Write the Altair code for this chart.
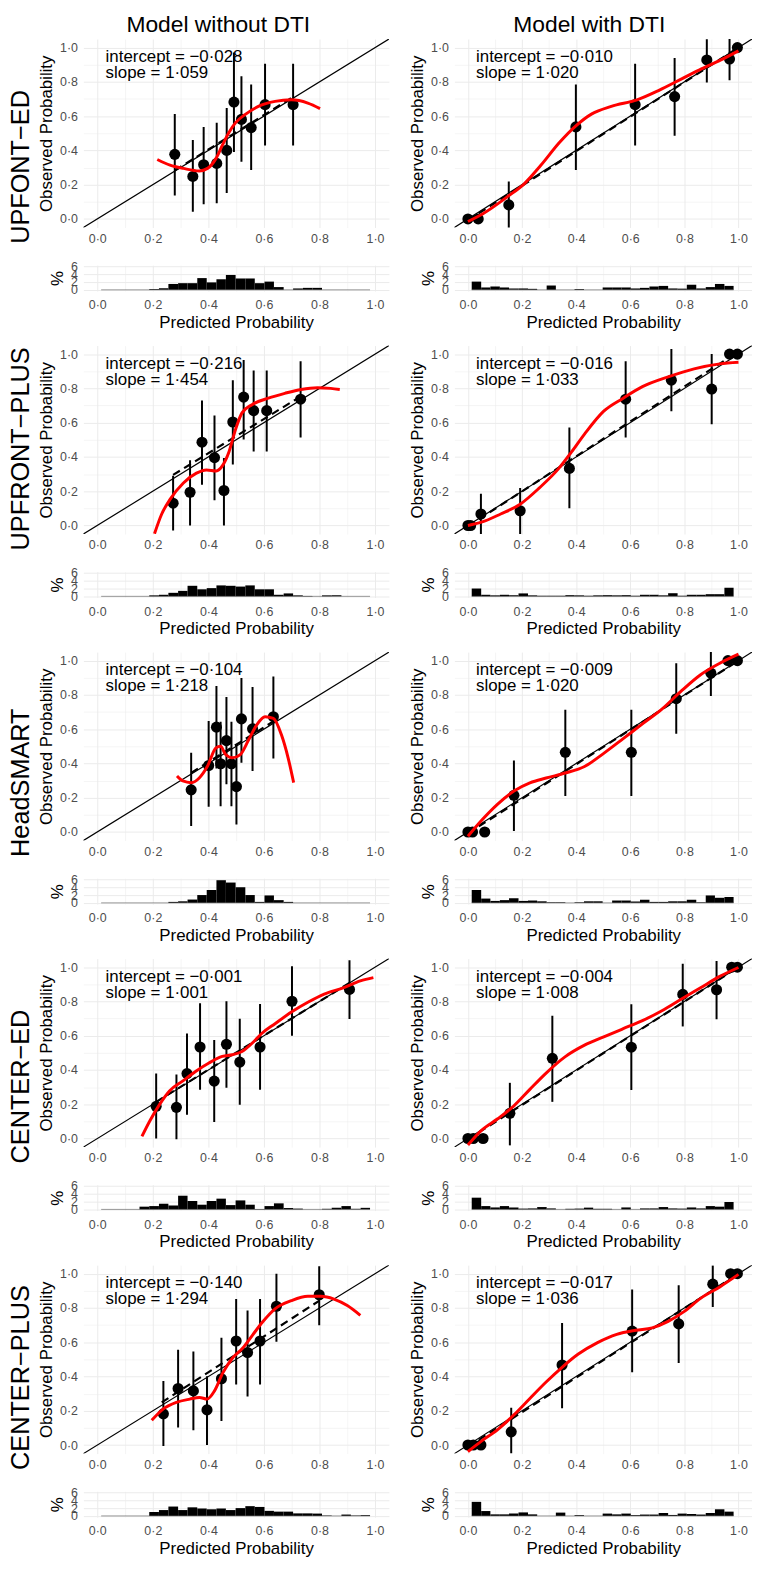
import altair as alt
import pandas as pd

FONT = "Liberation Sans"

# ---------------- text ----------------
ROW_NAMES = ["UPFONT\u2212ED", "UPFRONT\u2212PLUS", "HeadSMART", "CENTER\u2212ED", "CENTER\u2212PLUS"]
COL_NAMES = ["Model without DTI", "Model with DTI"]

# ---------------- axis ticks ----------------
TENTHS = [0.0, 0.1, 0.2, 0.3, 0.4, 0.5, 0.6, 0.7, 0.8, 0.9, 1.0]
HIST_TICKS = [0, 2, 4, 6]
DIAG = [-0.1, 1.1]

# ---------------- histogram bins ----------------
BIN_LO = [0.014, 0.049, 0.083, 0.118, 0.152, 0.187, 0.222, 0.256, 0.291, 0.325,
          0.360, 0.394, 0.429, 0.463, 0.498, 0.533, 0.567, 0.602, 0.636, 0.671,
          0.705, 0.740, 0.775, 0.809, 0.844, 0.879, 0.913, 0.948]
BIN_HI = [0.049, 0.083, 0.118, 0.152, 0.187, 0.222, 0.256, 0.291, 0.325, 0.360,
          0.394, 0.429, 0.463, 0.498, 0.533, 0.567, 0.602, 0.636, 0.671, 0.705,
          0.740, 0.775, 0.809, 0.844, 0.879, 0.913, 0.948, 0.982]

# ================= UPFONT-ED, without DTI =================
ue_wo_px = [0.279, 0.344, 0.383, 0.430, 0.466, 0.492, 0.519, 0.554, 0.604, 0.705]
ue_wo_py = [0.377, 0.248, 0.316, 0.324, 0.400, 0.682, 0.581, 0.533, 0.667, 0.667]
ue_wo_lo = [0.137, 0.042, 0.086, 0.091, 0.152, 0.390, 0.333, 0.286, 0.429, 0.429]
ue_wo_hi = [0.613, 0.461, 0.537, 0.562, 0.648, 0.971, 0.832, 0.785, 0.905, 0.905]
ue_wo_cx = [0.216, 0.262, 0.310, 0.367, 0.397, 0.427, 0.450, 0.474, 0.498, 0.533, 0.580, 0.640, 0.699, 0.758, 0.802]
ue_wo_cy = [0.347, 0.314, 0.295, 0.280, 0.295, 0.352, 0.429, 0.505, 0.562, 0.610, 0.657, 0.686, 0.695, 0.676, 0.644]
ue_wo_dx = [0.279, 0.705]
ue_wo_dy = [0.283, 0.712]
ue_wo_hist = [0, 0, 0, 0, 0, 0.2, 0.4, 1.5, 1.7, 1.7, 3.0, 1.9, 2.7, 3.8, 2.9, 2.9, 1.7, 2.1, 0.7, 0,
              0.35, 0.5, 0.5, 0, 0, 0, 0, 0]
ue_wo_txt = ["intercept = \u22120\u00b7028", "slope = 1\u00b7059"]

# ================= UPFONT-ED, with DTI =================
ue_w_px = [0.0, 0.038, 0.151, 0.399, 0.618, 0.764, 0.883, 0.967, 0.996]
ue_w_py = [0.0, 0.0, 0.082, 0.537, 0.667, 0.714, 0.928, 0.933, 1.0]
ue_w_lo = [0.0, 0.0, -0.057, 0.286, 0.429, 0.486, 0.796, 0.810, 1.0]
ue_w_hi = [0.0, 0.0, 0.219, 0.785, 0.905, 0.939, 1.048, 1.050, 1.0]
ue_w_cx = [0.0, 0.054, 0.149, 0.208, 0.268, 0.339, 0.399, 0.458, 0.530, 0.625, 0.708, 0.792, 0.863, 0.935, 1.0]
ue_w_cy = [-0.015, 0.029, 0.133, 0.205, 0.310, 0.447, 0.543, 0.613, 0.657, 0.695, 0.752, 0.819, 0.876, 0.928, 0.981]
ue_w_dx = [0.0, 1.0]
ue_w_dy = [-0.008, 1.0]
ue_w_hist = [2.1, 0.6, 0.85, 0.6, 0.35, 0.35, 0.25, 0, 1.1, 0, 0, 0.2, 0, 0, 0.6, 0.6, 0.6, 0.35, 0.5, 0.85,
             1.0, 0.35, 0.3, 1.3, 0.35, 0.7, 1.5, 1.0]
ue_w_txt = ["intercept = \u22120\u00b7010", "slope = 1\u00b7020"]

# ================= UPFRONT-PLUS, without DTI =================
up_wo_px = [0.273, 0.334, 0.377, 0.422, 0.456, 0.488, 0.527, 0.563, 0.610, 0.732]
up_wo_py = [0.130, 0.194, 0.486, 0.396, 0.204, 0.604, 0.749, 0.670, 0.670, 0.737]
up_wo_lo = [-0.030, 0.0, 0.238, 0.147, 0.0, 0.356, 0.501, 0.432, 0.432, 0.514]
up_wo_hi = [0.290, 0.381, 0.730, 0.642, 0.394, 0.848, 0.966, 0.905, 0.905, 0.958]
up_wo_cx = [0.206, 0.232, 0.262, 0.310, 0.357, 0.393, 0.428, 0.452, 0.474, 0.498, 0.521, 0.557, 0.616,
            0.675, 0.734, 0.793, 0.840, 0.873]
up_wo_cy = [-0.048, 0.067, 0.152, 0.248, 0.305, 0.324, 0.318, 0.352, 0.429, 0.562, 0.657, 0.705, 0.743,
            0.771, 0.794, 0.804, 0.800, 0.794]
up_wo_dx = [0.273, 0.722]
up_wo_dy = [0.295, 0.743]
up_wo_hist = [0, 0, 0, 0, 0, 0.25, 0.4, 0.9, 1.4, 2.7, 1.8, 2.1, 2.8, 2.7, 2.5, 2.8, 1.8, 1.8, 0.4, 0.75,
              0.25, 0.1, 0, 0.25, 0.25, 0, 0, 0]
up_wo_txt = ["intercept = \u22120\u00b7216", "slope = 1\u00b7454"]

# ================= UPFRONT-PLUS, with DTI =================
up_w_px = [0.0, 0.010, 0.048, 0.193, 0.375, 0.583, 0.752, 0.901, 0.967, 0.996]
up_w_py = [0.0, 0.0, 0.067, 0.086, 0.333, 0.737, 0.848, 0.796, 1.0, 1.0]
up_w_lo = [0.0, 0.0, -0.050, -0.050, 0.101, 0.514, 0.667, 0.590, 1.0, 1.0]
up_w_hi = [0.0, 0.0, 0.185, 0.219, 0.571, 0.958, 1.030, 1.000, 1.0, 1.0]
up_w_cx = [0.0, 0.050, 0.121, 0.193, 0.264, 0.336, 0.383, 0.431, 0.502, 0.574, 0.645, 0.740, 0.836, 0.931, 1.0]
up_w_cy = [0.0, 0.019, 0.067, 0.124, 0.219, 0.333, 0.429, 0.533, 0.667, 0.743, 0.810, 0.867, 0.914, 0.943, 0.952]
up_w_dx = [0.0, 1.0]
up_w_dy = [-0.005, 1.015]
up_w_hist = [2.0, 0.4, 0.25, 0.4, 0.25, 0.75, 0.25, 0.15, 0.15, 0.15, 0.3, 0.25, 0.15, 0.25, 0.3, 0.25, 0.3,
             0.15, 0.4, 0.4, 0.25, 0.8, 0.15, 0.4, 0.4, 0.55, 0.55, 2.2]
up_w_txt = ["intercept = \u22120\u00b7016", "slope = 1\u00b7033"]

# ================= HeadSMART, without DTI =================
hs_wo_px = [0.338, 0.401, 0.429, 0.444, 0.465, 0.483, 0.501, 0.519, 0.559, 0.634]
hs_wo_py = [0.246, 0.388, 0.612, 0.398, 0.533, 0.398, 0.265, 0.660, 0.602, 0.673]
hs_wo_lo = [0.035, 0.148, 0.371, 0.150, 0.279, 0.150, 0.044, 0.404, 0.356, 0.429]
hs_wo_hi = [0.462, 0.648, 0.852, 0.644, 0.788, 0.644, 0.510, 0.898, 0.846, 0.908]
hs_wo_cx = [0.287, 0.308, 0.338, 0.368, 0.397, 0.427, 0.444, 0.462, 0.486, 0.515, 0.545, 0.574, 0.604,
            0.634, 0.663, 0.687, 0.707]
hs_wo_cy = [0.327, 0.298, 0.288, 0.317, 0.385, 0.490, 0.500, 0.452, 0.433, 0.452, 0.538, 0.625, 0.673,
            0.663, 0.567, 0.433, 0.288]
hs_wo_dx = [0.338, 0.634]
hs_wo_dy = [0.345, 0.645]
hs_wo_hist = [0, 0, 0, 0, 0, 0, 0, 0.25, 0.4, 0.85, 2.0, 3.3, 5.8, 5.2, 4.0, 2.0, 0.25, 1.9, 0.7, 0.25,
              0, 0, 0, 0, 0, 0, 0, 0]
hs_wo_txt = ["intercept = \u22120\u00b7104", "slope = 1\u00b7218"]

# ================= HeadSMART, with DTI =================
hs_w_px = [0.0, 0.017, 0.062, 0.170, 0.360, 0.604, 0.770, 0.898, 0.961, 0.996]
hs_w_py = [0.0, 0.0, 0.0, 0.214, 0.465, 0.465, 0.778, 0.927, 1.0, 1.0]
hs_w_lo = [0.0, 0.0, 0.0, 0.006, 0.210, 0.210, 0.574, 0.793, 1.0, 1.0]
hs_w_hi = [0.0, 0.0, 0.0, 0.417, 0.713, 0.713, 0.985, 1.060, 1.0, 1.0]
hs_w_cx = [0.0, 0.050, 0.110, 0.170, 0.229, 0.289, 0.360, 0.431, 0.502, 0.574, 0.645, 0.717, 0.788, 0.860,
           0.931, 1.0]
hs_w_cy = [-0.025, 0.067, 0.163, 0.239, 0.287, 0.315, 0.344, 0.382, 0.459, 0.545, 0.631, 0.717, 0.822,
           0.918, 0.985, 1.038]
hs_w_dx = [0.0, 1.0]
hs_w_dy = [-0.008, 1.0]
hs_w_hist = [3.3, 1.1, 0.5, 0.7, 1.2, 0.5, 0.6, 0.4, 0.15, 0.15, 0, 0.15, 0.4, 0.4, 0, 0.6, 0.6, 0.35, 0.8,
             0.25, 0.25, 0.4, 0.4, 0.8, 0.15, 1.9, 1.3, 1.5]
hs_w_txt = ["intercept = \u22120\u00b7009", "slope = 1\u00b7020"]

# ================= CENTER-ED, without DTI =================
ce_wo_px = [0.212, 0.285, 0.323, 0.370, 0.421, 0.465, 0.513, 0.586, 0.701, 0.908]
ce_wo_py = [0.188, 0.182, 0.379, 0.534, 0.335, 0.550, 0.446, 0.534, 0.801, 0.870]
ce_wo_lo = [0.0, -0.004, 0.138, 0.284, 0.096, 0.297, 0.197, 0.284, 0.600, 0.697]
ce_wo_hi = [0.379, 0.374, 0.613, 0.789, 0.575, 0.801, 0.699, 0.785, 1.006, 1.040]
ce_wo_cx = [0.161, 0.190, 0.225, 0.260, 0.307, 0.355, 0.402, 0.450, 0.486, 0.521, 0.563, 0.592, 0.640,
            0.699, 0.758, 0.817, 0.888, 0.947, 0.994]
ce_wo_cy = [0.013, 0.105, 0.201, 0.278, 0.335, 0.393, 0.441, 0.479, 0.489, 0.508, 0.565, 0.613, 0.670,
            0.738, 0.795, 0.843, 0.881, 0.920, 0.939]
ce_wo_dx = [0.212, 0.908]
ce_wo_dy = [0.214, 0.908]
ce_wo_hist = [0, 0, 0, 0, 0.7, 0.85, 1.45, 1.0, 3.5, 2.15, 1.2, 2.15, 2.75, 1.1, 2.3, 1.2, 0.1, 0.85, 1.55,
              0.35, 0.2, 0, 0, 0.15, 0.4, 0.85, 0.15, 0.4]
ce_wo_txt = ["intercept = \u22120\u00b7001", "slope = 1\u00b7001"]

# ================= CENTER-ED, with DTI =================
ce_w_px = [0.0, 0.020, 0.056, 0.155, 0.312, 0.604, 0.794, 0.919, 0.975, 0.996]
ce_w_py = [0.0, 0.0, 0.0, 0.147, 0.468, 0.533, 0.841, 0.868, 1.0, 1.0]
ce_w_lo = [0.0, 0.0, 0.0, -0.040, 0.214, 0.283, 0.654, 0.696, 1.0, 1.0]
ce_w_hi = [0.0, 0.0, 0.0, 0.325, 0.717, 0.784, 1.020, 1.036, 1.0, 1.0]
ce_w_cx = [0.0, 0.050, 0.110, 0.170, 0.229, 0.289, 0.360, 0.431, 0.502, 0.574, 0.645, 0.717, 0.788, 0.860,
           0.931, 1.0]
ce_w_cy = [-0.038, 0.048, 0.115, 0.191, 0.287, 0.382, 0.478, 0.545, 0.593, 0.641, 0.688, 0.746, 0.813,
           0.880, 0.946, 0.998]
ce_w_dx = [0.0, 1.0]
ce_w_dy = [-0.005, 1.0]
ce_w_hist = [3.0, 0.85, 0.5, 0.85, 0.5, 0.2, 0.25, 0.6, 0.25, 0, 0.15, 0.2, 0.45, 0.15, 0.15, 0, 0.5, 0,
             0.25, 0.25, 0.6, 0.25, 0.2, 0.5, 0.25, 0.85, 0.7, 1.9]
ce_w_txt = ["intercept = \u22120\u00b7004", "slope = 1\u00b7008"]

# ================= CENTER-PLUS, without DTI =================
cp_wo_px = [0.238, 0.291, 0.346, 0.395, 0.447, 0.500, 0.541, 0.586, 0.645, 0.799]
cp_wo_py = [0.182, 0.330, 0.316, 0.205, 0.387, 0.607, 0.540, 0.607, 0.810, 0.877]
cp_wo_lo = [-0.006, 0.102, 0.086, 0.0, 0.140, 0.354, 0.284, 0.354, 0.603, 0.699]
cp_wo_hi = [0.374, 0.556, 0.546, 0.402, 0.626, 0.852, 0.785, 0.852, 1.000, 1.044]
cp_wo_cx = [0.196, 0.238, 0.285, 0.333, 0.368, 0.395, 0.422, 0.452, 0.487, 0.523, 0.559, 0.595, 0.640,
            0.699, 0.758, 0.805, 0.852, 0.900, 0.947]
cp_wo_cy = [0.144, 0.211, 0.249, 0.268, 0.278, 0.268, 0.316, 0.421, 0.508, 0.565, 0.642, 0.718, 0.795,
            0.843, 0.868, 0.868, 0.852, 0.814, 0.757]
cp_wo_dx = [0.232, 0.800]
cp_wo_dy = [0.249, 0.843]
cp_wo_hist = [0, 0, 0, 0, 0, 1.0, 1.5, 2.4, 1.5, 2.2, 1.9, 1.7, 1.9, 1.5, 2.0, 2.5, 2.3, 1.3, 1.1, 1.1,
              0.65, 0.65, 0.6, 0.1, 0, 0.35, 0.1, 0.2]
cp_wo_txt = ["intercept = \u22120\u00b7140", "slope = 1\u00b7294"]

# ================= CENTER-PLUS, with DTI =================
cp_w_px = [0.0, 0.020, 0.048, 0.160, 0.348, 0.607, 0.779, 0.905, 0.971, 0.996]
cp_w_py = [0.0, 0.0, 0.0, 0.077, 0.467, 0.665, 0.707, 0.939, 1.0, 1.0]
cp_w_lo = [0.0, 0.0, 0.0, -0.050, 0.215, 0.425, 0.479, 0.805, 1.0, 1.0]
cp_w_hi = [0.0, 0.0, 0.0, 0.218, 0.713, 0.908, 0.933, 1.048, 1.0, 1.0]
cp_w_cx = [0.0, 0.050, 0.110, 0.170, 0.229, 0.289, 0.348, 0.408, 0.479, 0.550, 0.621, 0.681, 0.740, 0.800,
           0.860, 0.931, 1.0]
cp_w_cy = [-0.038, 0.023, 0.090, 0.176, 0.272, 0.368, 0.454, 0.531, 0.598, 0.646, 0.670, 0.684, 0.722,
           0.780, 0.856, 0.923, 0.996]
cp_w_dx = [0.0, 1.0]
cp_w_dy = [-0.01, 1.0]
cp_w_hist = [3.6, 1.25, 0.4, 0.4, 0.6, 0.9, 0.4, 0, 0, 0.85, 0, 0.2, 0, 0, 0.6, 0.4, 0.6, 0.2, 0.35, 0.35,
             0.75, 0.25, 0.6, 0.5, 0.35, 0.75, 1.7, 1.1]
cp_w_txt = ["intercept = \u22120\u00b7017", "slope = 1\u00b7036"]


def panel(px, py, lo, hi, cx, cy, dx, dy, hist, txt):
    return dict(px=px, py=py, lo=lo, hi=hi, cx=cx, cy=cy, dx=dx, dy=dy, hist=hist, txt=txt)


ROWS = [
    (panel(ue_wo_px, ue_wo_py, ue_wo_lo, ue_wo_hi, ue_wo_cx, ue_wo_cy, ue_wo_dx, ue_wo_dy, ue_wo_hist, ue_wo_txt),
     panel(ue_w_px, ue_w_py, ue_w_lo, ue_w_hi, ue_w_cx, ue_w_cy, ue_w_dx, ue_w_dy, ue_w_hist, ue_w_txt)),
    (panel(up_wo_px, up_wo_py, up_wo_lo, up_wo_hi, up_wo_cx, up_wo_cy, up_wo_dx, up_wo_dy, up_wo_hist, up_wo_txt),
     panel(up_w_px, up_w_py, up_w_lo, up_w_hi, up_w_cx, up_w_cy, up_w_dx, up_w_dy, up_w_hist, up_w_txt)),
    (panel(hs_wo_px, hs_wo_py, hs_wo_lo, hs_wo_hi, hs_wo_cx, hs_wo_cy, hs_wo_dx, hs_wo_dy, hs_wo_hist, hs_wo_txt),
     panel(hs_w_px, hs_w_py, hs_w_lo, hs_w_hi, hs_w_cx, hs_w_cy, hs_w_dx, hs_w_dy, hs_w_hist, hs_w_txt)),
    (panel(ce_wo_px, ce_wo_py, ce_wo_lo, ce_wo_hi, ce_wo_cx, ce_wo_cy, ce_wo_dx, ce_wo_dy, ce_wo_hist, ce_wo_txt),
     panel(ce_w_px, ce_w_py, ce_w_lo, ce_w_hi, ce_w_cx, ce_w_cy, ce_w_dx, ce_w_dy, ce_w_hist, ce_w_txt)),
    (panel(cp_wo_px, cp_wo_py, cp_wo_lo, cp_wo_hi, cp_wo_cx, cp_wo_cy, cp_wo_dx, cp_wo_dy, cp_wo_hist, cp_wo_txt),
     panel(cp_w_px, cp_w_py, cp_w_lo, cp_w_hi, cp_w_cx, cp_w_cy, cp_w_dx, cp_w_dy, cp_w_hist, cp_w_txt)),
]

# ---------------- styling ----------------
ANN_X = 0.03
ANN_Y = [0.943, 0.850]
CAL_H = 190
HIST_H = 26
W_LEFT = 308
W_RIGHT = 300
TICK_FS = 12.5

XS = alt.Scale(domain=[-0.05, 1.05], nice=False, zero=False)
YS = alt.Scale(domain=[-0.05, 1.05], nice=False, zero=False)
HS = alt.Scale(domain=[-0.3, 6.3], nice=False, zero=False)

LABEL_EXPR = "round(datum.value*10) % 2 == 0 ? replace(format(datum.value, '.1f'), '.', '\u00b7') : ''"
GRIDW = {"condition": {"test": "round(datum.value*10) % 2 == 1", "value": 0.5}, "value": 1.0}
GRID_COLOR = "#EBEBEB"
LABEL_COLOR = "#4D4D4D"


def prob_axis(orient, title, pad):
    kw = dict(orient=orient, values=TENTHS, labelExpr=LABEL_EXPR, gridWidth=GRIDW, gridColor=GRID_COLOR,
              grid=True, ticks=False, tickSize=0, domain=False, labelFont=FONT, labelFontSize=TICK_FS,
              labelColor=LABEL_COLOR, labelPadding=pad, labelOverlap=False, labelFlush=False,
              titleFont=FONT, titleFontWeight="normal", titleColor="black")
    if title:
        kw.update(title=title, titleFontSize=17, titlePadding=4 if orient == "left" else 3)
    else:
        kw.update(title=None)
    return alt.Axis(**kw)


def hist_axis():
    return alt.Axis(orient="left", values=HIST_TICKS, format="d", gridWidth=1, gridColor=GRID_COLOR, grid=True,
                    ticks=False, tickSize=0, domain=False, labelFont=FONT, labelFontSize=TICK_FS,
                    labelColor=LABEL_COLOR, labelPadding=6, labelOverlap=False, labelFlush=False,
                    title="%", titleFont=FONT, titleFontSize=17, titleFontWeight="normal", titleColor="black",
                    titlePadding=4)


def make_cal(p, width, row_title=None, col_title=None, col_dx=0):
    pts = pd.DataFrame({"x": p["px"], "y": p["py"], "lo": p["lo"], "hi": p["hi"]})
    crv = pd.DataFrame({"x": p["cx"], "y": p["cy"]})
    dsh = pd.DataFrame({"x": p["dx"], "y": p["dy"]})
    dia = pd.DataFrame({"x": DIAG, "y": DIAG})
    txt = pd.DataFrame({"x": [ANN_X, ANN_X], "y": ANN_Y, "t": p["txt"]})

    diag = alt.Chart(dia).mark_line(color="black", strokeWidth=1.2, clip=True).encode(
        x=alt.X("x:Q", scale=XS, axis=prob_axis("bottom", None, 5)),
        y=alt.Y("y:Q", scale=YS, axis=prob_axis("left", "Observed Probability", 6)),
    )
    dashed = alt.Chart(dsh).mark_line(color="black", strokeWidth=2.2, strokeDash=[8, 5], clip=True).encode(
        x=alt.X("x:Q", scale=XS, axis=None),
        y=alt.Y("y:Q", scale=YS, axis=None),
    )
    if row_title:
        rt_axis = alt.Axis(orient="left", title=row_title, labels=False, ticks=False, domain=False, grid=False,
                           titleFont=FONT, titleFontSize=25.5, titleFontWeight="normal", titleColor="black",
                           titleAngle=270, titleAlign="left", titleBaseline="bottom", titleX=-50, titleY=206)
        yb = alt.Y("lo:Q", scale=YS, axis=rt_axis)
    else:
        yb = alt.Y("lo:Q", scale=YS, axis=None)
    bars = alt.Chart(pts).mark_rule(color="black", strokeWidth=2, clip=True).encode(
        x=alt.X("x:Q", scale=XS, axis=None), y=yb, y2=alt.Y2("hi"),
    )
    dots = alt.Chart(pts).mark_circle(size=125, color="black", opacity=1).encode(
        x=alt.X("x:Q", scale=XS, axis=None),
        y=alt.Y("y:Q", scale=YS, axis=None),
    )
    curve = alt.Chart(crv).mark_line(color="#FF0000", strokeWidth=3, interpolate="monotone", clip=True).encode(
        x=alt.X("x:Q", scale=XS, axis=None),
        y=alt.Y("y:Q", scale=YS, axis=None),
    )
    text = alt.Chart(txt).mark_text(align="left", baseline="middle", font=FONT, fontSize=17, color="black").encode(
        x=alt.X("x:Q", scale=XS, axis=None),
        y=alt.Y("y:Q", scale=YS, axis=None),
        text="t:N",
    )
    ch = alt.layer(diag, dashed, bars, dots, curve, text).resolve_axis(
        x="independent", y="independent").properties(width=width, height=CAL_H)
    if col_title:
        ch = ch.properties(title=alt.TitleParams(col_title, font=FONT, fontSize=23, fontWeight="normal",
                                                 color="black", anchor="middle", frame="group", offset=2,
                                                 dx=col_dx))
    return ch


def make_hist(vals, width):
    df = pd.DataFrame({"lo": BIN_LO, "hi": BIN_HI, "pct": vals, "zero": [0] * len(vals)})
    bars = alt.Chart(df).mark_rect(color="black").encode(
        x=alt.X("lo:Q", scale=XS, axis=prob_axis("bottom", "Predicted Probability", 8)),
        x2=alt.X2("hi"),
        y=alt.Y("zero:Q", scale=HS, axis=hist_axis()),
        y2=alt.Y2("pct"),
    )
    base_df = pd.DataFrame({"a": [BIN_LO[0]], "b": [BIN_HI[-1]], "z": [0]})
    base = alt.Chart(base_df).mark_rule(color="#555555", strokeWidth=0.6).encode(
        x=alt.X("a:Q", scale=XS, axis=None), x2=alt.X2("b"),
        y=alt.Y("z:Q", scale=HS, axis=None),
    )
    return alt.layer(bars, base).resolve_axis(x="independent", y="independent").properties(
        width=width, height=HIST_H)


cells = []
for r, (left, right) in enumerate(ROWS):
    cells.append(make_cal(left, W_LEFT, row_title=ROW_NAMES[r],
                          col_title=COL_NAMES[0] if r == 0 else None, col_dx=-18))
    cells.append(make_cal(right, W_RIGHT, col_title=COL_NAMES[1] if r == 0 else None, col_dx=-14))
    cells.append(make_hist(left["hist"], W_LEFT))
    cells.append(make_hist(right["hist"], W_RIGHT))

chart = alt.concat(*cells, columns=2, spacing={"row": 15, "column": 19}, align="each", bounds="full").properties(
    padding={"left": 0, "top": 0, "right": 0, "bottom": 0}, background="white"
).configure_view(stroke=None)

chart.save("out.html", embed_options={"renderer": "svg", "actions": False})
